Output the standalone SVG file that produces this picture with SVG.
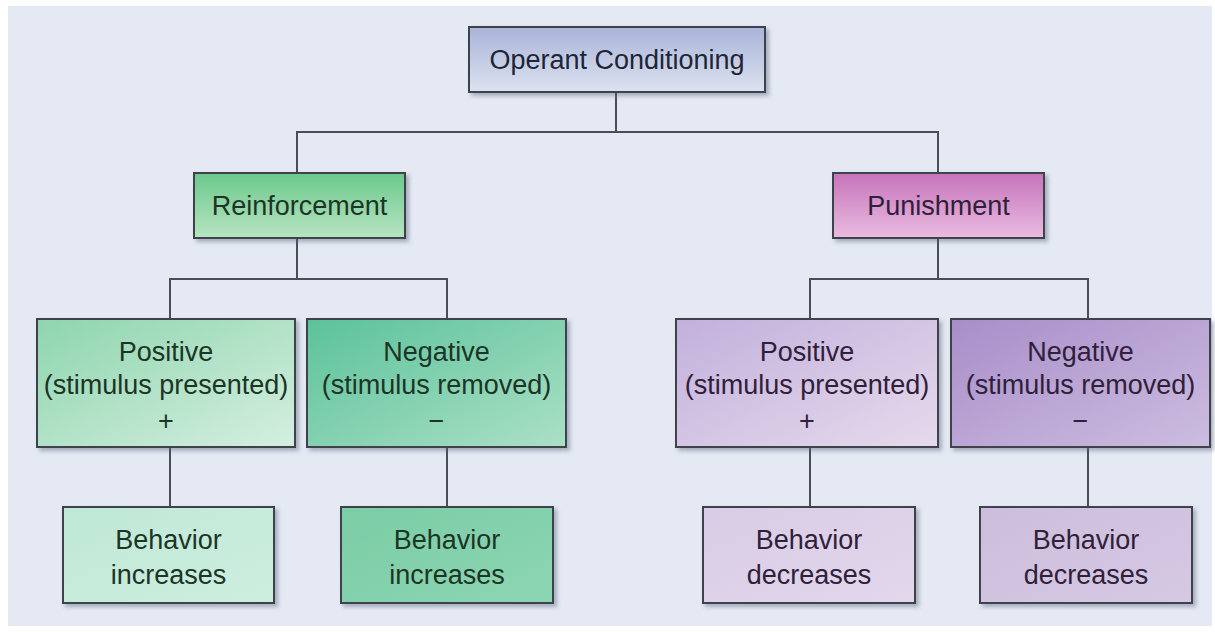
<svg xmlns="http://www.w3.org/2000/svg" width="1215" height="632" viewBox="0 0 1215 632">
<defs>
<filter id="sh" x="-5%" y="-5%" width="115%" height="120%">
<feDropShadow dx="3" dy="3" stdDeviation="2" flood-color="#55607a" flood-opacity="0.45"/>
</filter>
<linearGradient id="gTop" x1="0" y1="0" x2="0" y2="1"><stop offset="0" stop-color="#a8b4d9"/><stop offset="1" stop-color="#dde2f0"/></linearGradient>
<linearGradient id="gRein" x1="0" y1="0" x2="0" y2="1"><stop offset="0" stop-color="#6cc98c"/><stop offset="1" stop-color="#b7e4c2"/></linearGradient>
<linearGradient id="gPun" x1="0" y1="0" x2="0" y2="1"><stop offset="0" stop-color="#c674ba"/><stop offset="1" stop-color="#e9bbe0"/></linearGradient>
<linearGradient id="gPosG" x1="0" y1="0" x2="1" y2="1"><stop offset="0" stop-color="#8ed5ae"/><stop offset="1" stop-color="#d5efe0"/></linearGradient>
<linearGradient id="gNegG" x1="0" y1="0" x2="1" y2="1"><stop offset="0" stop-color="#5bc29a"/><stop offset="1" stop-color="#abe0c6"/></linearGradient>
<linearGradient id="gPosP" x1="0" y1="0" x2="1" y2="1"><stop offset="0" stop-color="#c2b0dc"/><stop offset="1" stop-color="#e6daec"/></linearGradient>
<linearGradient id="gNegP" x1="0" y1="0" x2="1" y2="1"><stop offset="0" stop-color="#a88ec9"/><stop offset="1" stop-color="#cdbde0"/></linearGradient>
<linearGradient id="gBIL" x1="0" y1="0" x2="1" y2="1"><stop offset="0" stop-color="#bfe8d6"/><stop offset="1" stop-color="#cdeedf"/></linearGradient>
<linearGradient id="gBIR" x1="0" y1="0" x2="1" y2="1"><stop offset="0" stop-color="#7acda6"/><stop offset="1" stop-color="#8dd5b3"/></linearGradient>
<linearGradient id="gBDL" x1="0" y1="0" x2="1" y2="1"><stop offset="0" stop-color="#d8cce6"/><stop offset="1" stop-color="#e2d7eb"/></linearGradient>
<linearGradient id="gBDR" x1="0" y1="0" x2="1" y2="1"><stop offset="0" stop-color="#cdbddd"/><stop offset="1" stop-color="#d6c9e3"/></linearGradient>
</defs>
<style>
.box{stroke:#3e434b;stroke-width:2;filter:url(#sh)}
.t{font-family:"Liberation Sans",Arial,sans-serif;font-size:27px;text-anchor:middle}
.tb{fill:#1f2535}
.tg{fill:#1c3527}
.tp{fill:#30203a}
.conn{fill:none;stroke:#4a4e56;stroke-width:2}
</style>
<rect x="0" y="0" width="1215" height="632" fill="#ffffff"/>
<rect x="8" y="6" width="1204" height="620" fill="#e5e9f3"/>
<g id="connectors" class="conn">
<path d="M616 92V132M297 173V132H938V173"/>
<path d="M297 238V279M170 319V279H447V319"/>
<path d="M938 238V279M810 319V279H1088V319"/>
<path d="M170 447V507M447 447V507M810 447V507M1088 447V507"/>
</g>
<g id="operant"><rect class="box" x="469" y="27" width="296" height="65" fill="url(#gTop)"/><text class="t tb" x="617" y="69">Operant Conditioning</text></g>
<g id="reinforcement"><rect class="box" x="194" y="173" width="211" height="65" fill="url(#gRein)"/><text class="t tg" x="299.5" y="215">Reinforcement</text></g>
<g id="punishment"><rect class="box" x="833" y="173" width="211" height="65" fill="url(#gPun)"/><text class="t tp" x="938.5" y="215">Punishment</text></g>
<g id="pos-reinf"><rect class="box" x="37" y="319" width="258" height="128" fill="url(#gPosG)"/><text class="t tg" x="166" y="361">Positive</text><text class="t tg" x="166" y="394">(stimulus presented)</text><text class="t tg" x="166" y="430">+</text></g>
<g id="neg-reinf"><rect class="box" x="307" y="319" width="259" height="128" fill="url(#gNegG)"/><text class="t tg" x="436.5" y="361">Negative</text><text class="t tg" x="436.5" y="394">(stimulus removed)</text><text class="t tg" x="436.5" y="430">−</text></g>
<g id="pos-pun"><rect class="box" x="676" y="319" width="262" height="128" fill="url(#gPosP)"/><text class="t tp" x="807" y="361">Positive</text><text class="t tp" x="807" y="394">(stimulus presented)</text><text class="t tp" x="807" y="430">+</text></g>
<g id="neg-pun"><rect class="box" x="951" y="319" width="259" height="128" fill="url(#gNegP)"/><text class="t tp" x="1080.5" y="361">Negative</text><text class="t tp" x="1080.5" y="394">(stimulus removed)</text><text class="t tp" x="1080.5" y="430">−</text></g>
<g id="beh-inc-1"><rect class="box" x="63" y="507" width="211" height="96" fill="url(#gBIL)"/><text class="t tg" x="168.5" y="549">Behavior</text><text class="t tg" x="168.5" y="584">increases</text></g>
<g id="beh-inc-2"><rect class="box" x="341" y="507" width="212" height="96" fill="url(#gBIR)"/><text class="t tg" x="447" y="549">Behavior</text><text class="t tg" x="447" y="584">increases</text></g>
<g id="beh-dec-1"><rect class="box" x="703" y="507" width="212" height="96" fill="url(#gBDL)"/><text class="t tp" x="809" y="549">Behavior</text><text class="t tp" x="809" y="584">decreases</text></g>
<g id="beh-dec-2"><rect class="box" x="980" y="507" width="212" height="96" fill="url(#gBDR)"/><text class="t tp" x="1086" y="549">Behavior</text><text class="t tp" x="1086" y="584">decreases</text></g>
</svg>
